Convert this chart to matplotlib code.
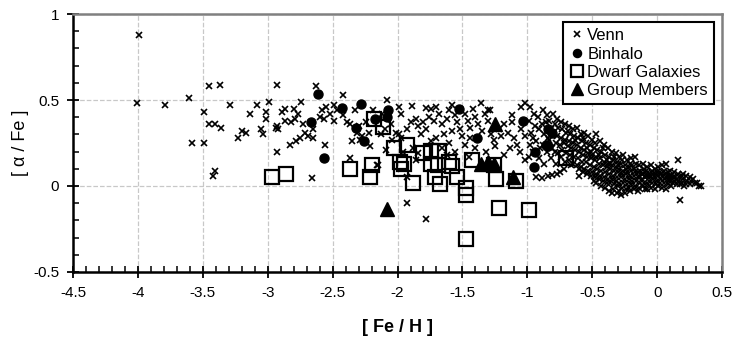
import matplotlib
matplotlib.use("Agg")
import matplotlib.pyplot as plt
from matplotlib.ticker import MultipleLocator

# [Fe/H], [alpha/Fe] pairs
venn = [
    # metal-poor tail
    (-3.99, 0.88), (-4.01, 0.48), (-3.79, 0.47), (-3.61, 0.51), (-3.49, 0.43),
    (-3.45, 0.58), (-3.37, 0.59), (-3.45, 0.36), (-3.41, 0.36), (-3.36, 0.34),
    (-3.58, 0.25), (-3.49, 0.25), (-3.41, 0.085), (-3.42, 0.06), (-3.29, 0.47),
    (-3.23, 0.28), (-3.20, 0.32), (-3.17, 0.31), (-3.14, 0.42), (-3.08, 0.47),
    (-3.05, 0.33), (-3.04, 0.30), (-3.01, 0.43), (-3.01, 0.39), (-2.99, 0.49),
    (-2.93, 0.59), (-2.94, 0.34), (-2.92, 0.33), (-2.93, 0.35), (-2.93, 0.20),
    (-2.89, 0.43), (-2.87, 0.45), (-2.87, 0.38), (-2.80, 0.45), (-2.82, 0.37),
    (-2.79, 0.39), (-2.83, 0.24), (-2.78, 0.26), (-2.75, 0.28), (-2.71, 0.31),
    (-2.74, 0.49), (-2.77, 0.42), (-2.73, 0.36),
    # -2.7 .. -2.0
    (-2.69, 0.29), (-2.65, 0.33), (-2.63, 0.58), (-2.66, 0.045), (-2.65, 0.28),
    (-2.56, 0.24), (-2.42, 0.53), (-2.58, 0.44), (-2.49, 0.47), (-2.47, 0.44),
    (-2.52, 0.42), (-2.57, 0.39), (-2.49, 0.38), (-2.42, 0.41), (-2.39, 0.37),
    (-2.33, 0.44), (-2.55, 0.46), (-2.60, 0.40), (-2.37, 0.36), (-2.35, 0.26),
    (-2.31, 0.31), (-2.29, 0.27), (-2.22, 0.31), (-2.21, 0.23), (-2.16, 0.12),
    (-2.37, 0.16), (-2.24, 0.37), (-2.27, 0.29), (-2.30, 0.35), (-2.15, 0.12),
    (-2.08, 0.50), (-2.10, 0.33), (-2.13, 0.30), (-2.09, 0.21), (-2.01, 0.31),
    (-1.99, 0.30), (-2.04, 0.27), (-2.12, 0.42), (-2.19, 0.44), (-2.05, 0.36),
    # -2.0 .. -1.0
    (-1.99, 0.46), (-1.97, 0.42), (-1.89, 0.465), (-1.97, 0.28), (-1.93, 0.33),
    (-1.90, 0.37), (-1.86, 0.39), (-1.84, 0.35), (-1.82, 0.30), (-1.80, 0.37),
    (-1.78, 0.455), (-1.74, 0.45), (-1.70, 0.46), (-1.76, 0.40), (-1.72, 0.38),
    (-1.68, 0.42), (-1.66, 0.36), (-1.64, 0.30), (-1.60, 0.44), (-1.58, 0.47),
    (-1.56, 0.41), (-1.62, 0.39), (-1.54, 0.37), (-1.52, 0.33), (-1.50, 0.29),
    (-1.48, 0.42), (-1.46, 0.38), (-1.44, 0.34), (-1.42, 0.45), (-1.40, 0.40),
    (-1.38, 0.36), (-1.35, 0.32), (-1.33, 0.42), (-1.30, 0.38), (-1.28, 0.30),
    (-1.26, 0.27), (-1.22, 0.33), (-1.20, 0.29), (-1.18, 0.36), (-1.15, 0.31),
    (-1.12, 0.37), (-1.10, 0.28), (-1.08, 0.24), (-1.05, 0.33), (-1.02, 0.29),
    (-1.29, 0.44), (-1.12, 0.41), (-1.05, 0.46), (-1.02, 0.48), (-1.60, 0.25),
    (-1.66, 0.22), (-1.70, 0.28), (-1.88, 0.22), (-1.84, 0.19), (-1.93, 0.05),
    (-1.93, -0.10), (-1.78, -0.19), (-1.56, 0.20), (-1.48, 0.24), (-1.45, 0.17),
    (-1.40, 0.22), (-1.32, 0.20), (-1.25, 0.23), (-1.18, 0.18), (-1.13, 0.22),
    (-1.06, 0.20), (-1.02, 0.15), (-1.78, 0.33), (-1.74, 0.26), (-1.52, 0.45),
    (-1.36, 0.48), (-1.30, 0.44), (-1.58, 0.32), (-1.44, 0.28), (-1.62, 0.18),
    (-1.96, 0.20), (-1.86, 0.15),
    # dense disk sequence -1.0 .. 0.35
    (-0.98, 0.46), (-0.99, 0.38), (-0.97, 0.31), (-0.98, 0.24), (-0.99, 0.17),
    (-0.95, 0.42), (-0.94, 0.35), (-0.96, 0.28), (-0.93, 0.055), (-0.92, 0.40),
    (-0.91, 0.33), (-0.93, 0.26), (-0.90, 0.22), (-0.89, 0.045), (-0.88, 0.44),
    (-0.89, 0.36), (-0.87, 0.30), (-0.88, 0.24), (-0.85, 0.41), (-0.86, 0.37),
    (-0.84, 0.28), (-0.85, 0.20), (-0.84, 0.06), (-0.83, 0.38), (-0.82, 0.33),
    (-0.83, 0.27), (-0.81, 0.22), (-0.81, 0.065), (-0.80, 0.42), (-0.79, 0.36),
    (-0.80, 0.31), (-0.78, 0.25), (-0.79, 0.20), (-0.77, 0.07), (-0.77, 0.39),
    (-0.76, 0.34), (-0.77, 0.29), (-0.75, 0.24), (-0.76, 0.19), (-0.75, 0.08),
    (-0.74, 0.37), (-0.73, 0.33), (-0.74, 0.28), (-0.72, 0.25), (-0.73, 0.21),
    (-0.74, 0.17), (-0.71, 0.36), (-0.70, 0.31), (-0.71, 0.27), (-0.69, 0.23),
    (-0.70, 0.19), (-0.71, 0.14), (-0.68, 0.35), (-0.67, 0.30), (-0.68, 0.26),
    (-0.66, 0.22), (-0.67, 0.18), (-0.68, 0.15), (-0.66, 0.12), (-0.65, 0.33),
    (-0.64, 0.29), (-0.65, 0.25), (-0.63, 0.21), (-0.64, 0.17), (-0.65, 0.13),
    (-0.62, 0.34), (-0.61, 0.28), (-0.62, 0.24), (-0.60, 0.20), (-0.61, 0.16),
    (-0.62, 0.12), (-0.60, 0.10), (-0.59, 0.30), (-0.58, 0.26), (-0.59, 0.22),
    (-0.57, 0.18), (-0.58, 0.14), (-0.59, 0.11), (-0.57, 0.08), (-0.56, 0.31),
    (-0.55, 0.25), (-0.56, 0.21), (-0.54, 0.17), (-0.55, 0.14), (-0.56, 0.10),
    (-0.54, 0.07), (-0.53, 0.29), (-0.52, 0.24), (-0.53, 0.19), (-0.51, 0.16),
    (-0.52, 0.12), (-0.53, 0.09), (-0.51, 0.06), (-0.50, 0.27), (-0.49, 0.22),
    (-0.50, 0.18), (-0.48, 0.15), (-0.49, 0.11), (-0.50, 0.08), (-0.48, 0.05),
    (-0.49, 0.03), (-0.47, 0.30), (-0.46, 0.21), (-0.47, 0.17), (-0.45, 0.13),
    (-0.46, 0.10), (-0.47, 0.07), (-0.45, 0.04), (-0.44, 0.26), (-0.43, 0.20),
    (-0.44, 0.16), (-0.42, 0.12), (-0.43, 0.09), (-0.44, 0.06), (-0.42, 0.03),
    (-0.41, 0.24), (-0.40, 0.18), (-0.41, 0.14), (-0.39, 0.11), (-0.40, 0.08),
    (-0.41, 0.05), (-0.39, 0.02), (-0.40, -0.01), (-0.38, 0.22), (-0.37, 0.17),
    (-0.38, 0.13), (-0.36, 0.10), (-0.37, 0.07), (-0.38, 0.04), (-0.36, 0.02),
    (-0.37, -0.03), (-0.35, 0.20), (-0.34, 0.15), (-0.35, 0.12), (-0.33, 0.09),
    (-0.34, 0.06), (-0.35, 0.04), (-0.33, 0.01), (-0.34, -0.02), (-0.32, 0.19),
    (-0.31, 0.14), (-0.32, 0.11), (-0.30, 0.08), (-0.31, 0.05), (-0.32, 0.03),
    (-0.30, 0.00), (-0.31, -0.04), (-0.29, 0.17), (-0.28, 0.13), (-0.29, 0.10),
    (-0.27, 0.07), (-0.28, 0.05), (-0.29, 0.02), (-0.27, -0.01), (-0.28, -0.05),
    (-0.26, 0.18), (-0.25, 0.12), (-0.26, 0.09), (-0.24, 0.07), (-0.25, 0.04),
    (-0.26, 0.02), (-0.24, -0.02), (-0.25, -0.04), (-0.23, 0.15), (-0.22, 0.11),
    (-0.23, 0.08), (-0.21, 0.06), (-0.22, 0.04), (-0.23, 0.01), (-0.21, -0.03),
    (-0.20, 0.16), (-0.19, 0.12), (-0.20, 0.09), (-0.18, 0.06), (-0.19, 0.03),
    (-0.20, 0.01), (-0.18, -0.02), (-0.17, 0.17), (-0.16, 0.13), (-0.17, 0.08),
    (-0.15, 0.05), (-0.16, 0.03), (-0.17, 0.00), (-0.15, -0.03), (-0.14, 0.12),
    (-0.13, 0.09), (-0.14, 0.06), (-0.12, 0.04), (-0.13, 0.02), (-0.14, -0.01),
    (-0.11, 0.13), (-0.10, 0.10), (-0.11, 0.07), (-0.09, 0.05), (-0.10, 0.02),
    (-0.11, 0.00), (-0.09, -0.02), (-0.08, 0.11), (-0.07, 0.08), (-0.08, 0.06),
    (-0.06, 0.03), (-0.07, 0.01), (-0.08, -0.02), (-0.05, 0.12), (-0.04, 0.09),
    (-0.05, 0.06), (-0.03, 0.04), (-0.04, 0.02), (-0.05, -0.01), (-0.02, 0.10),
    (-0.01, 0.07), (-0.02, 0.05), (0.00, 0.03), (-0.01, 0.01), (-0.02, -0.02),
    (0.01, 0.11), (0.02, 0.08), (0.01, 0.06), (0.03, 0.04), (0.02, 0.02),
    (0.01, 0.00), (0.04, 0.12), (0.05, 0.09), (0.04, 0.06), (0.06, 0.04),
    (0.05, 0.02), (0.04, -0.01), (0.07, 0.13), (0.08, 0.08), (0.07, 0.05),
    (0.09, 0.03), (0.08, 0.01), (0.07, -0.02), (0.10, 0.09), (0.11, 0.06),
    (0.10, 0.04), (0.12, 0.02), (0.11, 0.00), (0.13, 0.08), (0.14, 0.05),
    (0.13, 0.03), (0.15, 0.01), (0.16, 0.15), (0.16, 0.07), (0.17, 0.05),
    (0.16, 0.03), (0.18, 0.01), (0.18, -0.08), (0.19, 0.06), (0.20, 0.04),
    (0.19, 0.02), (0.21, 0.00), (0.22, 0.06), (0.23, 0.03), (0.22, 0.01),
    (0.25, 0.05), (0.26, 0.03), (0.25, 0.01), (0.28, 0.04), (0.29, 0.02),
    (0.31, 0.02), (0.32, 0.00), (0.34, 0.00),
    # extra scatter filling the disk band
    (-0.96, 0.20), (-0.91, 0.16), (-0.87, 0.13), (-0.82, 0.16), (-0.78, 0.13),
    (-0.72, 0.10), (-0.69, 0.32), (-0.63, 0.27), (-0.60, 0.06), (-0.57, 0.28),
    (-0.54, 0.22), (-0.51, 0.20), (-0.48, 0.25), (-0.45, 0.18), (-0.42, 0.22),
    (-0.39, 0.15), (-0.36, 0.13), (-0.33, 0.17), (-0.30, 0.12), (-0.27, 0.15),
    (-0.24, 0.10), (-0.21, 0.13), (-0.18, 0.10), (-0.15, 0.08), (-0.12, 0.07),
    (-0.09, 0.08), (-0.06, 0.06), (-0.03, 0.07), (0.00, 0.08), (0.03, 0.07),
    (0.06, 0.07), (0.09, 0.06), (0.12, 0.05), (0.15, 0.04), (0.20, 0.07),
    (-0.47, 0.02), (-0.43, 0.00), (-0.35, -0.04), (-0.29, -0.03), (-0.22, -0.01),
]

binhalo = [
    (-2.61, 0.535), (-2.67, 0.37), (-2.57, 0.165), (-2.43, 0.455), (-2.28, 0.475),
    (-2.32, 0.34), (-2.26, 0.26), (-2.17, 0.39), (-2.07, 0.44), (-2.08, 0.40),
    (-1.53, 0.45), (-1.39, 0.28), (-1.03, 0.38), (-0.94, 0.20), (-0.95, 0.11),
    (-0.84, 0.33), (-0.81, 0.31), (-0.86, 0.24), (-0.84, 0.23),
]

dwarf = [
    (-2.97, 0.05), (-2.86, 0.07), (-2.37, 0.10), (-2.20, 0.12), (-2.21, 0.055),
    (-2.18, 0.39), (-2.11, 0.345), (-2.03, 0.22), (-1.93, 0.24), (-1.98, 0.14),
    (-1.95, 0.13), (-1.97, 0.10), (-1.88, 0.02), (-1.80, 0.19), (-1.74, 0.205),
    (-1.68, 0.205), (-1.74, 0.13), (-1.69, 0.12), (-1.71, 0.055), (-1.67, 0.01),
    (-1.60, 0.14), (-1.58, 0.115), (-1.54, 0.055), (-1.47, -0.01), (-1.47, -0.05),
    (-1.47, -0.31), (-1.43, 0.15), (-1.26, 0.12), (-1.24, 0.04), (-1.22, -0.13),
    (-1.09, 0.03), (-0.99, -0.14), (-0.70, 0.16),
]

group = [
    (-2.08, -0.135), (-1.25, 0.36), (-1.36, 0.13), (-1.30, 0.14), (-1.26, 0.13),
    (-1.11, 0.05),
]

x_ticks = [-4.5, -4, -3.5, -3, -2.5, -2, -1.5, -1, -0.5, 0, 0.5]
x_labels = ["-4.5", "-4", "-3.5", "-3", "-2.5", "-2", "-1.5", "-1", "-0.5", "0", "0.5"]
y_ticks = [-0.5, 0, 0.5, 1]
y_labels = ["-0.5", "0", "0.5", "1"]

plt.rcParams["font.family"] = ["Liberation Sans", "DejaVu Sans"]

fig = plt.figure(figsize=(7.34, 3.46), dpi=100)
ax = fig.add_axes([0.0995, 0.2139, 0.8842, 0.7456])

vx, vy = zip(*venn)
bx, by = zip(*binhalo)
dx, dy = zip(*dwarf)
gx, gy = zip(*group)

ax.plot(vx, vy, linestyle="none", marker="x", color="black", markersize=5,
        markeredgewidth=1.2, label="Venn", zorder=3)
ax.plot(bx, by, linestyle="none", marker="o", color="black", markersize=6.5,
        label="Binhalo", zorder=4)
ax.plot(dx, dy, linestyle="none", marker="s", markerfacecolor="none",
        markeredgecolor="black", markersize=10, markeredgewidth=1.6,
        label="Dwarf Galaxies", zorder=5)
ax.plot(gx, gy, linestyle="none", marker="^", color="black", markersize=10,
        label="Group Members", zorder=6)

ax.set_xlim(-4.5, 0.5)
ax.set_ylim(-0.5, 1.0)
ax.set_xticks(x_ticks)
ax.set_xticklabels(x_labels)
ax.set_yticks(y_ticks)
ax.set_yticklabels(y_labels)
ax.xaxis.set_minor_locator(MultipleLocator(0.1))
ax.yaxis.set_minor_locator(MultipleLocator(0.1))
ax.tick_params(which="major", direction="inout", length=8, width=1.3,
               labelsize=11, pad=6, colors="black")
ax.tick_params(which="minor", direction="in", length=4, width=1.1)
ax.tick_params(axis="x", which="both", top=False)
ax.tick_params(axis="y", which="both", right=False)

ax.grid(True, which="major", color="#c8c8c8", linestyle="--", linewidth=0.9)
ax.set_axisbelow(True)

for side in ["left", "bottom"]:
    ax.spines[side].set_color("black")
    ax.spines[side].set_linewidth(1.8)
for side in ["top", "right"]:
    ax.spines[side].set_color("#808080")
    ax.spines[side].set_linewidth(1.8)

ax.set_xlabel("[ Fe / H ]", fontsize=13, fontweight="bold", labelpad=14)
ax.set_ylabel("[ α / Fe ]", fontsize=13, labelpad=3)

leg = ax.legend(loc="upper right", fontsize=12, frameon=True, fancybox=False,
                borderpad=0.35, labelspacing=0.2, handletextpad=0.1,
                handlelength=1.0, borderaxespad=0.5, markerscale=0.9)
leg.get_frame().set_edgecolor("black")
leg.get_frame().set_linewidth(1.5)
leg.get_frame().set_alpha(1.0)

fig.savefig("out.png", dpi=100)
